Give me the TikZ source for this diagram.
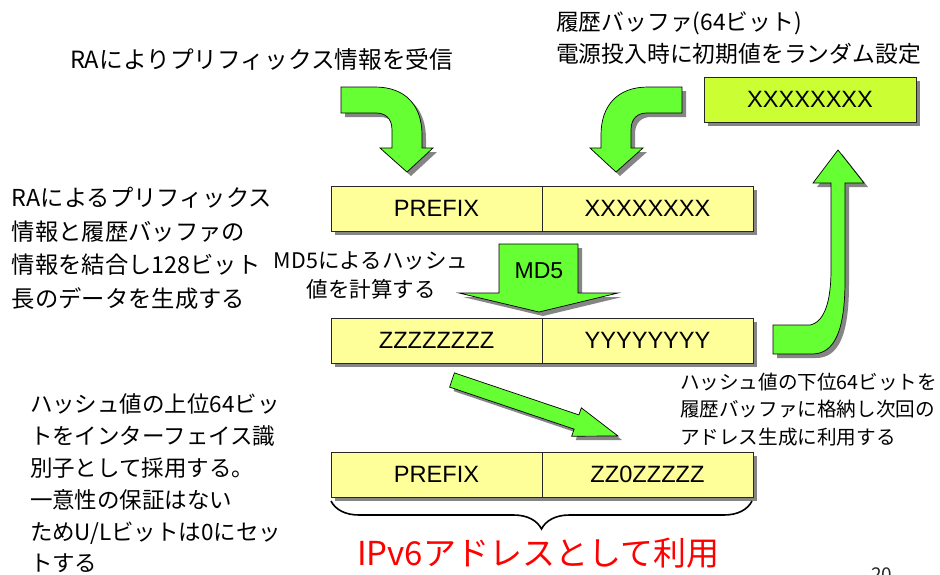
\documentclass[tikz,border=0pt]{standalone}
\usepackage{fontspec}
\setmainfont{Noto Sans CJK JP}
\newfontfamily\arialfont{Liberation Sans}
\usetikzlibrary{shadows,decorations.pathreplacing}
\definecolor{boxyellow}{HTML}{FFFF99}
\definecolor{arrowgreen}{HTML}{66FF33}
\definecolor{limebox}{HTML}{CCFF33}
\definecolor{shadowgray}{HTML}{858585}
\definecolor{redtext}{HTML}{FF0000}
\begin{document}
\begin{tikzpicture}[x=1pt,y=-1pt,
  myshadow/.style={drop shadow={shadow xshift=4pt, shadow yshift=-4pt, fill=shadowgray, opacity=1}},
  cell/.style={draw=black!85, line width=0.8pt, fill=boxyellow, minimum width=211pt, minimum height=45pt,
    inner sep=0pt, outer sep=0pt, font=\arialfont\fontsize{23.6}{27}\selectfont, myshadow},
  garrow/.style={draw=black, line width=0.7pt, fill=arrowgreen, line join=miter, myshadow},
  txt/.style={inner sep=0pt, outer sep=0pt, text=black},
  big/.style={font=\fontsize{23.3}{33.7}\selectfont},
  mid/.style={font=\fontsize{22.5}{31.8}\selectfont},
  small/.style={font=\fontsize{19.6}{27.3}\selectfont}]
\useasboundingbox (0,0) rectangle (940,574);
\fill[white] (0,0) rectangle (940,574);

% ---- texts ----
\node[txt, font=\fontsize{23.7}{28}\selectfont, anchor=west] (recv) at (70,59) {RAによりプリフィックス情報を受信};
\node[txt, font=\fontsize{22.8}{32}\selectfont, anchor=north west, align=left] (histtxt) at (556,12)
  {履歴バッファ(64ビット)\\電源投入時に初期値をランダム設定};
\node[txt, big, anchor=north west, align=left] (combine) at (12,187)
  {RAによるプリフィックス\\情報と履歴バッファの\\情報を結合し128ビット\\長のデータを生成する};
\node[txt, font=\fontsize{21.5}{29}\selectfont, anchor=north, align=center] (md5txt) at (371,252)
  {MD5によるハッシュ\\値を計算する};
\node[txt, small, anchor=north west, align=left] (lowtxt) at (680,373)
  {ハッシュ値の下位64ビットを\\履歴バッファに格納し次回の\\アドレス生成に利用する};
\node[txt, mid, anchor=north west, align=left] (uptxt) at (30,394)
  {ハッシュ値の上位64ビッ\\トをインターフェイス識\\別子として採用する。\\一意性の保証はない\\ためU/Lビットは0にセッ\\トする};
\node[txt, font=\fontsize{33}{38}\selectfont, text=redtext, anchor=west] (use) at (357,553) {IPv6アドレスとして利用};
\node[txt, font=\fontsize{19}{22}\selectfont, text=black!85, anchor=north west] (pg) at (871,568) {20};

% ---- green buffer box ----
\node[cell, fill=limebox, minimum width=212pt] (buf) at (810,99.5) {XXXXXXXX};

% ---- curved arrow top-left ----
\path[garrow] (341,87) -- (375,87) .. controls (405,87) and (422,105) .. (422,135) -- (422,148)
  -- (433,148) -- (407,172) -- (380,148) -- (392,148) -- (392,130)
  .. controls (392,118) and (385,113) .. (376,113) -- (341,113) -- cycle;
% ---- curved arrow top-right ----
\path[garrow] (682,87) -- (648,87) .. controls (618,87) and (601,105) .. (601,135) -- (601,148)
  -- (590,148) -- (616,172) -- (643,148) -- (631,148) -- (631,130)
  .. controls (631,118) and (638,113) .. (647,113) -- (682,113) -- cycle;

% ---- row 1 ----
\node[cell] (pfx1) at (436.5,208.5) {PREFIX};
\node[cell] (hist1) at (647.5,208.5) {XXXXXXXX};

% ---- MD5 arrow ----
\path[garrow] (499,244) -- (578,244) -- (578,293) -- (618,293) -- (539,312) -- (459,293) -- (499,293) -- cycle;
\node[txt, font=\arialfont\fontsize{23}{26}\selectfont] (md5lbl) at (539,271) {MD5};

% ---- row 2 ----
\node[cell] (hash1) at (436.5,340.5) {ZZZZZZZZ};
\node[cell] (hash2) at (647.5,340.5) {YYYYYYYY};

% ---- up arrow right ----
\path[garrow] (773,325) -- (810,325) .. controls (825,322) and (831,300) .. (831,270) -- (831,183)
  -- (813,183) -- (838,150) -- (864,183) -- (845,183) -- (845,280)
  .. controls (845,330) and (835,354) .. (812,354) -- (773,354) -- cycle;

% ---- diagonal arrow ----
\path[garrow] (454.4,372.9) -- (578.9,414.9) -- (581.3,407.8) -- (618,436) -- (571.7,436.2)
  -- (574.1,429.1) -- (449.6,387.1) -- cycle;

% ---- row 3 ----
\node[cell] (pfx3) at (436.5,474.5) {PREFIX};
\node[cell] (iid3) at (647.5,474.5) {ZZ0ZZZZZ};

% ---- brace ----
\coordinate (bl) at (331,501);
\coordinate (br) at (752,501);
\draw[decorate, decoration={brace, mirror, amplitude=28pt}, line width=1.6pt] (bl) -- (br);
\end{tikzpicture}
\end{document}
